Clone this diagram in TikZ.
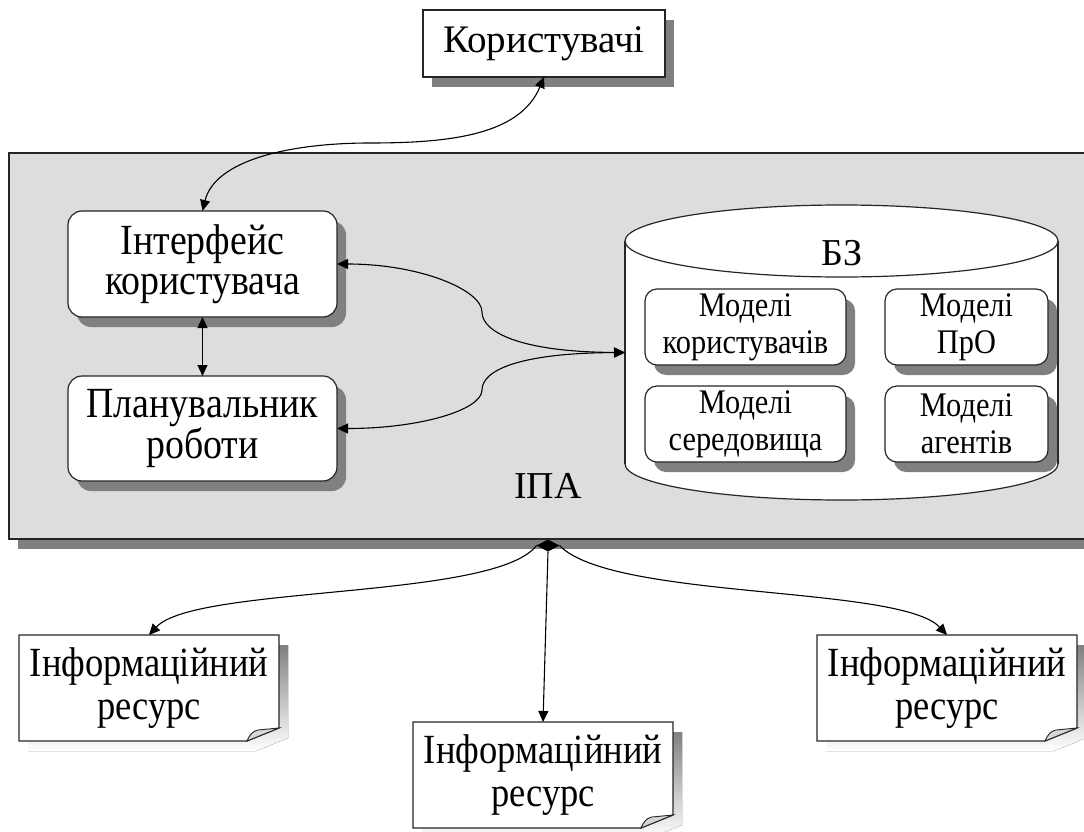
\documentclass[tikz,border=0pt]{standalone}
\usepackage{fontspec}
\setmainfont{Liberation Serif}
\newfontfamily\tallserif[FakeStretch=0.88]{Liberation Serif}
\usetikzlibrary{arrows.meta,shadows,shapes.geometric}
\definecolor{panel}{HTML}{DDDDDD}
\definecolor{shade}{HTML}{808080}
\definecolor{curl}{HTML}{D6D6D6}
\pgfdeclarelayer{back}
\pgfsetlayers{back,main}

% page with a dog-eared corner and a shadow, drawn around a named node
\newcommand\docpage[1]{%
  \begin{pgfonlayer}{back}
    \fill[shade] ([shift={(9,10)}]#1.north west) -- ([shift={(9,10)}]#1.north east)
      -- ([shift={(9,-3)}]#1.south east) -- ([shift={(-23,10)}]#1.south east)
      -- ([shift={(9,10)}]#1.south west) -- cycle;
    \draw[frame, fill=white] (#1.north west) -- (#1.north east)
      -- ([shift={(0,-13)}]#1.south east) -- ([shift={(-32,0)}]#1.south east)
      -- (#1.south west) -- cycle;
    \draw[frame, line width=0.9pt, fill=curl] ([shift={(-32,0)}]#1.south east)
      .. controls ([shift={(-29,-7)}]#1.south east) and ([shift={(-26,-10)}]#1.south east)
      .. ([shift={(-21,-11)}]#1.south east) -- ([shift={(0,-13)}]#1.south east) -- cycle;
  \end{pgfonlayer}}

\begin{document}
\begin{tikzpicture}[x=1pt,y=-1pt,
  every node/.style={inner sep=0pt, outer sep=0pt},
  frame/.style={draw=black!85, line width=1.2pt},
  shadowed/.style={drop shadow={shadow xshift=9pt,shadow yshift=-10pt,fill=shade,opacity=1}},
  plainbox/.style={frame, fill=white, shadowed, align=center},
  roundbox/.style={plainbox, rounded corners=14pt},
  modelbox/.style={plainbox, rounded corners=12pt, font=\tallserif\fontsize{34.5}{37}\selectfont},
  bigtext/.style={font=\fontsize{38}{40}\selectfont},
  boxtext/.style={font=\tallserif\fontsize{43}{40}\selectfont},
  doctext/.style={font=\tallserif\fontsize{41.5}{43}\selectfont, align=center,
                  minimum width=260pt, minimum height=106pt},
  biarrow/.style={line width=1.1pt, >={Triangle[length=11pt,width=10pt]}, <->},
  outarrow/.style={line width=1.1pt, >={Triangle[length=11pt,width=10pt]}, ->},
]
\useasboundingbox (0,0) rectangle (1084,832);
\begin{pgfonlayer}{back}
  \fill[white] (0,0) rectangle (1084,832);
\end{pgfonlayer}

% users
\node[plainbox, minimum width=242pt, minimum height=67pt,
      font=\fontsize{39}{40}\selectfont] (users) at (544,43.5) {Користувачі};

% agent panel
\node[frame, fill=panel, shadowed, minimum width=1091pt, minimum height=386pt]
  (ipa) at (554.5,346) {};
\node[bigtext, anchor=base] (ipaname) at (548,498) {ІПА};

% interface and planner
\node[roundbox, boxtext, minimum width=269pt, minimum height=106pt]
  (iface) at (202.5,264) {Інтерфейс\\користувача};
\node[roundbox, boxtext, minimum width=269pt, minimum height=105pt]
  (planner) at (202.5,428.5) {Планувальник\\роботи};

% knowledge base cylinder
\node[minimum width=433pt, minimum height=295pt] (bz) at (841.5,352.5) {};
\draw[frame, fill=white] (841.5,464) ellipse [x radius=216.5, y radius=36];
\fill[white] (625,241) rectangle (1058,464);
\draw[frame] (625,241) -- (625,464) (1058,241) -- (1058,464);
\draw[frame, fill=white] (841.5,241) ellipse [x radius=216.5, y radius=36];
\node[bigtext, anchor=base] (bzname) at (842,265) {БЗ};

\node[modelbox, minimum width=201pt, minimum height=76pt]
  (musers) at (745.5,327) {Моделі\\користувачів};
\node[modelbox, minimum width=163pt, minimum height=76pt]
  (mdomain) at (966.5,327) {Моделі\\ПрО};
\node[modelbox, minimum width=201pt, minimum height=76pt]
  (menv) at (745.5,424) {Моделі\\середовища};
\node[modelbox, minimum width=163pt, minimum height=76pt]
  (magents) at (966.5,424) {Моделі\\агентів};

% information resources
\node[doctext] (resL) at (149,688) {Інформаційний\\ресурс};
\node[doctext] (resM) at (543,775) {Інформаційний\\ресурс};
\node[doctext] (resR) at (947,688) {Інформаційний\\ресурс};
\docpage{resL}
\docpage{resM}
\docpage{resR}

% connectors
\draw[biarrow] (users.south) .. controls (520,135) and (450,143) .. (370,143)
  .. controls (290,143) and (215,160) .. (iface.north);
\draw[biarrow] (iface.south) -- (planner.north);
\draw[biarrow] (bz.west) .. controls (520,352) and (482,332) .. (482,312)
  .. controls (482,290) and (420,264) .. (iface.east);
\draw[biarrow] (bz.west) .. controls (520,353) and (482,370) .. (482,390)
  .. controls (482,410) and (420,428.5) .. (planner.east);

\node[diamond, fill=black, minimum width=23pt, minimum height=12pt] (hub) at (548,545.5) {};
\draw[outarrow] (hub.west) .. controls (495,600) and (195,585) .. (resL.north);
\draw[outarrow] (hub.south) -- (resM.north);
\draw[outarrow] (hub.east) .. controls (612,600) and (900,585) .. (resR.north);
\end{tikzpicture}
\end{document}
